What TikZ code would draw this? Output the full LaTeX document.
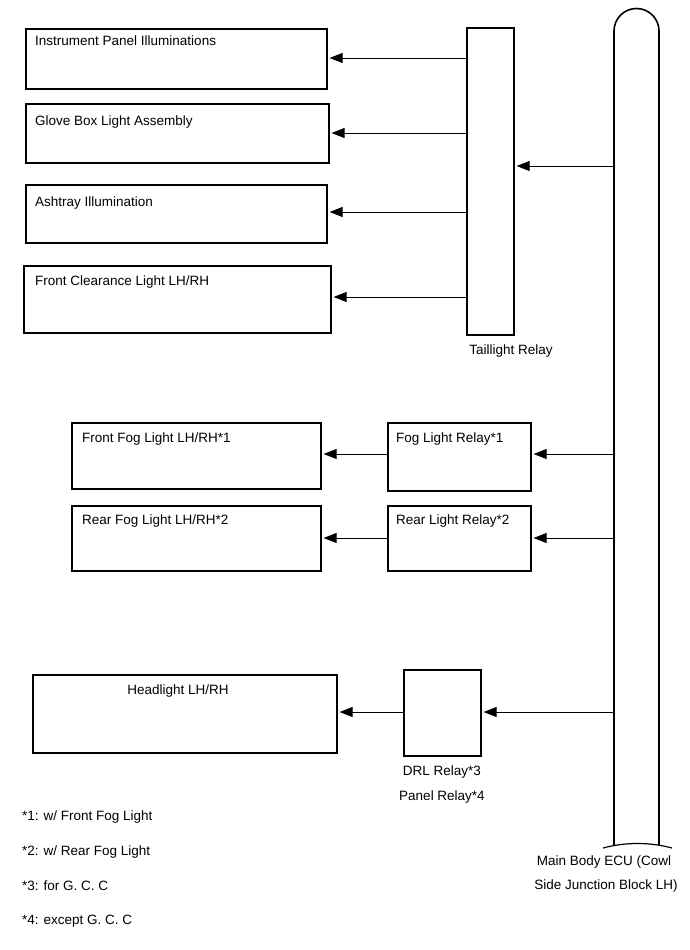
\documentclass[tikz,border=0pt]{standalone}
\usepackage{fontspec}
\setmainfont{Liberation Sans}
\usetikzlibrary{arrows.meta}
\begin{document}
\begin{tikzpicture}[x=1pt,y=-1pt,
  box/.style={draw=black,line width=1.6pt,inner sep=0pt,anchor=north west},
  txt/.style={inner sep=0pt,anchor=base west,font=\fontsize{13.5}{16}\selectfont},
  ctxt/.style={inner sep=0pt,anchor=center,font=\fontsize{13.5}{16}\selectfont},
  arr/.style={draw=black,line width=0.8pt,-{Triangle[length=13pt,width=10pt]},shorten >=2pt}]
\useasboundingbox (0,0) rectangle (689,950);
% output boxes
\node[box,minimum width=301pt,minimum height=60pt] (ip) at (25,28) {};
\node[txt] (ipT) at (35,46) {Instrument Panel Illuminations};
\node[box,minimum width=303pt,minimum height=59pt] (gb) at (25,103) {};
\node[txt] (gbT) at (35,125) {Glove Box Light Assembly};
\node[box,minimum width=301pt,minimum height=58pt] (ash) at (25,184) {};
\node[txt] (ashT) at (35,206) {Ashtray Illumination};
\node[box,minimum width=307pt,minimum height=67pt] (fc) at (23,265) {};
\node[txt] (fcT) at (35,285) {Front Clearance Light LH/RH};
% taillight relay
\node[box,minimum width=47pt,minimum height=307pt] (tr) at (466,27) {};
\node[ctxt] (trT) at (511,351) {Taillight Relay};
% fog
\node[box,minimum width=249pt,minimum height=66pt] (ff) at (71,422) {};
\node[txt] (ffT) at (82,442) {Front Fog Light LH/RH*1};
\node[box,minimum width=143pt,minimum height=68pt] (flr) at (387,422) {};
\node[txt] (flrT) at (396,442) {Fog Light Relay*1};
\node[box,minimum width=249pt,minimum height=65pt] (rf) at (71,505) {};
\node[txt] (rfT) at (82,524) {Rear Fog Light LH/RH*2};
\node[box,minimum width=143pt,minimum height=65pt] (rlr) at (387,505) {};
\node[txt] (rlrT) at (396,524) {Rear Light Relay*2};
% headlight
\node[box,minimum width=304pt,minimum height=78pt] (hl) at (32,674) {};
\node[ctxt,anchor=base] (hlT) at (178,694) {Headlight LH/RH};
\node[box,minimum width=77pt,minimum height=86pt] (drl) at (403,669) {};
\node[ctxt] (drlT) at (442,772) {DRL Relay*3};
\node[ctxt] (drlT2) at (442,797) {Panel Relay*4};
% ECU bar
\draw[line width=1.6pt] (614,845) -- (614,31) arc[start angle=180,end angle=360,radius=22.5] -- (659,845);
\draw[line width=1.2pt] (603,848) .. controls (625,842) and (650,842) .. (672,848);
\node[ctxt] (ecuT1) at (604,862) {Main Body ECU (Cowl};
\node[ctxt] (ecuT2) at (606,886) {Side Junction Block LH)};
% coordinates on ECU
\coordinate (e1) at (614,166);
\coordinate (e2) at (614,454);
\coordinate (e3) at (614,538);
\coordinate (e4) at (614,712);
% arrows
\draw[arr] (e1) -- (e1 -| tr.east);
\draw[arr] (e2) -- (e2 -| flr.east);
\draw[arr] (e3) -- (e3 -| rlr.east);
\draw[arr] (e4) -- (e4 -| drl.east);
\coordinate (t1) at (466,58);
\coordinate (t2) at (466,133);
\coordinate (t3) at (466,212);
\coordinate (t4) at (466,297);
\draw[arr] (t1) -- (t1 -| ip.east);
\draw[arr] (t2) -- (t2 -| gb.east);
\draw[arr] (t3) -- (t3 -| ash.east);
\draw[arr] (t4) -- (t4 -| fc.east);
\draw[arr] (flr.west |- e2) -- (e2 -| ff.east);
\draw[arr] (rlr.west |- e3) -- (e3 -| rf.east);
\draw[arr] (drl.west |- e4) -- (e4 -| hl.east);
% footnotes
\node[txt,anchor=west] (n1) at (22,817) {*1: w/ Front Fog Light};
\node[txt,anchor=west] (n2) at (22,852) {*2: w/ Rear Fog Light};
\node[txt,anchor=west] (n3) at (22,886) {*3: for G. C. C};
\node[txt,anchor=west] (n4) at (22,921) {*4: except G. C. C};
\end{tikzpicture}
\end{document}
